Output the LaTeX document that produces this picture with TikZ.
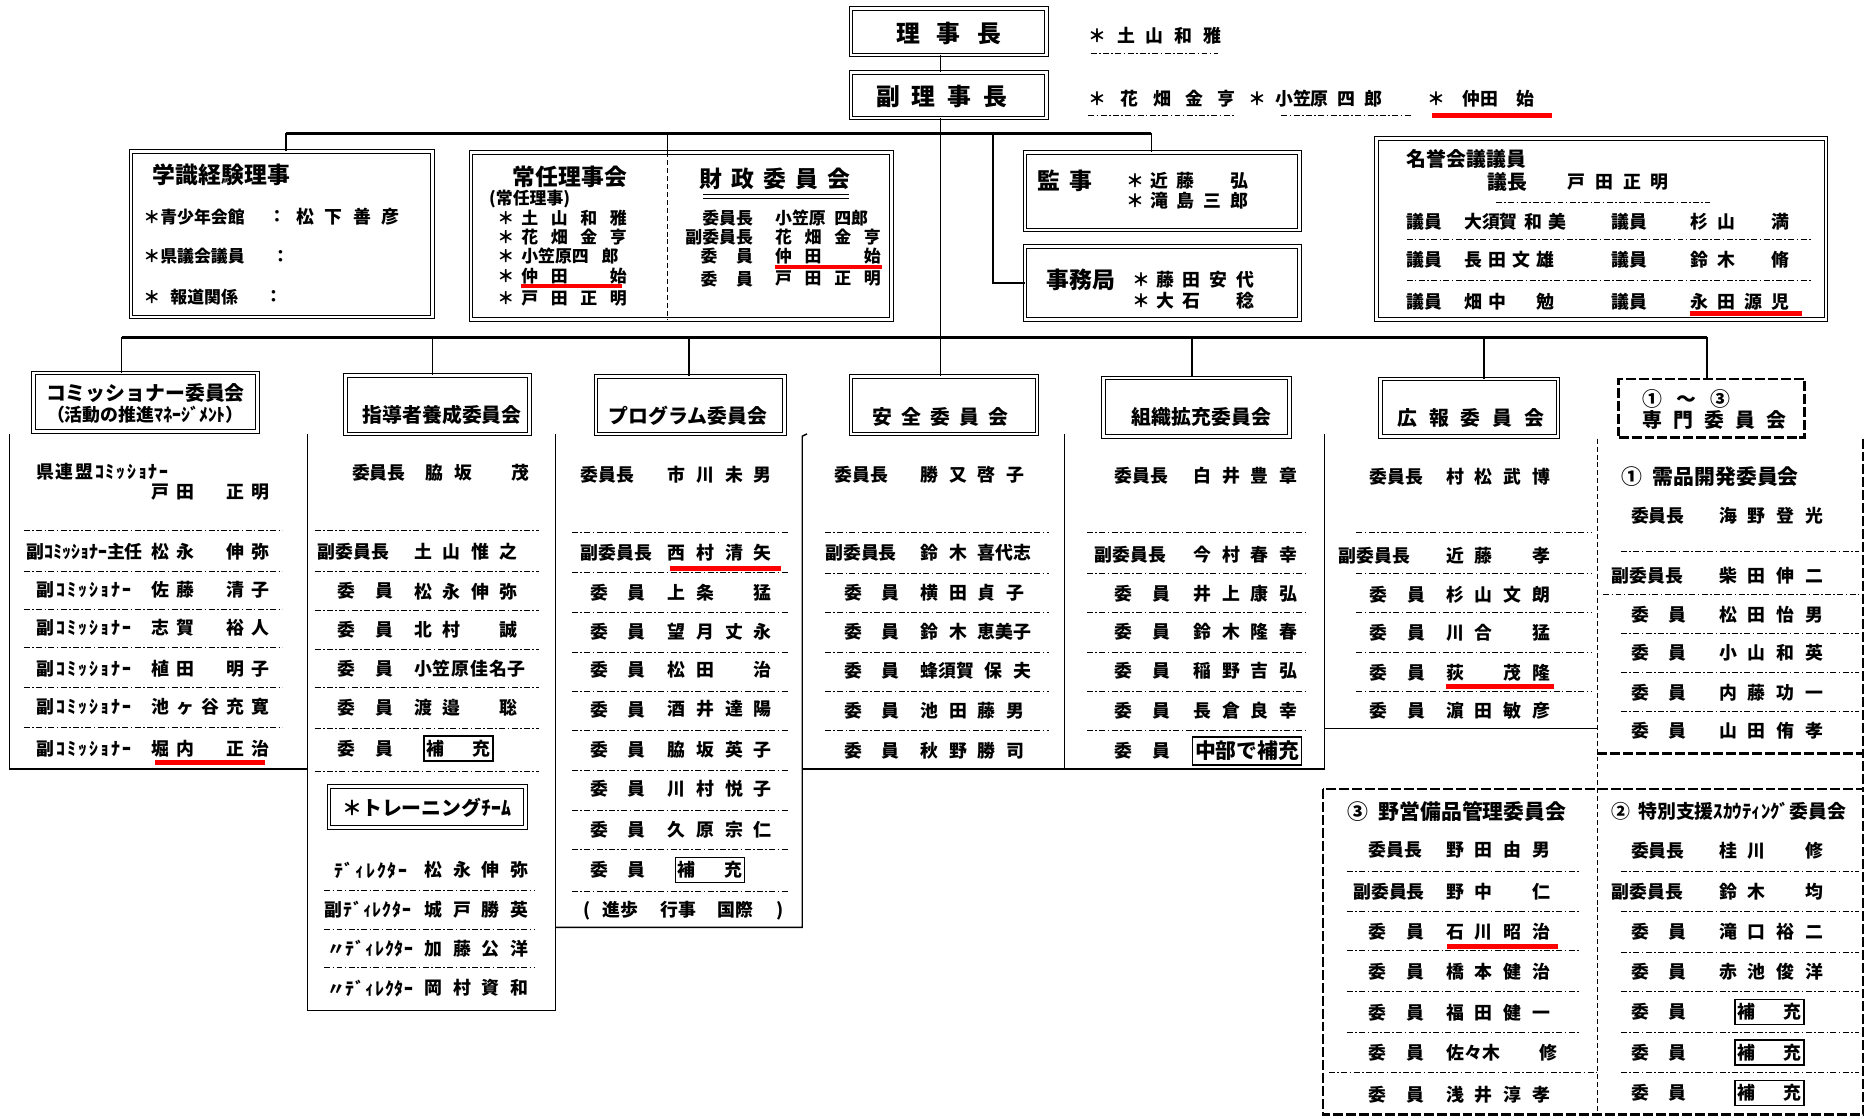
\documentclass[tikz,border=0pt]{standalone}
\usepackage{fontspec}
\setmainfont{Noto Sans CJK JP}

% 字間をあけて並べる
\newlength\lspgap
\newcommand\lspend{}
\newcommand\lsp[2][0.6em]{\setlength\lspgap{#1}\hskip-\lspgap\expandafter\lspstep#2\lspend}
\def\lspstep#1{\ifx\lspend#1\else\hskip\lspgap#1\expandafter\lspstep\fi}
\newcommand\iin{委\hspace{1.1em}員}
\newcommand\hoju{補\hspace{1.6em}充}

\tikzset{
  hbox/.style={draw, double, double distance=1.3pt, line width=0.5pt, inner sep=0pt},
  dbox/.style={draw, line width=1.3pt, dash pattern=on 5pt off 1.5pt, inner sep=0pt},
  wh/.style 2 args={minimum width=#1*0.6pt, minimum height=#2*0.6pt},
  txt/.style={anchor=west, inner sep=0pt, font=\fontsize{9}{10}\selectfont\bfseries},
  stxt/.style={anchor=west, inner sep=0pt, font=\fontsize{8.5}{9}\selectfont\bfseries},
  ttl/.style={inner sep=0pt, font=\fontsize{10}{12}\selectfont\bfseries},
  bttl/.style={inner sep=0pt, font=\fontsize{11.5}{13}\selectfont\bfseries},
  big/.style={inner sep=0pt, font=\fontsize{12}{14}\selectfont\bfseries},
  hj/.style={draw, line width=0.7pt, anchor=west, inner xsep=1.2pt, inner ysep=2pt,
    font=\fontsize{9}{10}\selectfont\bfseries},
  sep/.style={line width=0.4pt, dash pattern=on 3pt off 1.2pt on 0.8pt off 1.2pt},
  pnl/.style={line width=0.7pt},
  bus/.style={line width=1.2pt},
  hvy/.style={line width=1.3pt, dash pattern=on 5pt off 1.5pt},
  thn/.style={line width=0.5pt, dash pattern=on 2.5pt off 1.5pt},
  uline/.style={red, line width=2.4pt}
}

\begin{document}
\begin{tikzpicture}[x=0.6pt, y=-0.6pt]
  \useasboundingbox (0,0) rectangle (1568,938);

  % ====== 理事長・副理事長 ======
  \node[hbox, wh={164}{39}] (rijicho) at (796,26.5) {};
  \node[big] (rijichoT) at (796,28) {\lsp[0.7em]{理事長}};
  \node[hbox, wh={164}{38}] (fuku) at (796,80) {};
  \node[big] (fukuT) at (790,81) {\lsp[0.5em]{副理事長}};
  \coordinate (trk) at (789,0);
  \draw[pnl] (rijicho.south -| trk) -- (fuku.north -| trk);

  \node[txt] (top1) at (913,30) {\lsp{＊土山和雅}};
  \draw[sep] (915,45) -- (1022,45);
  \node[txt] (top2) at (913,83) {\lsp[0.8em]{＊花畑金亨}};
  \node[txt] (top3) at (1047,83) {\lsp[0.5em]{＊{小笠原}四郎}};
  \node[txt] (top4) at (1197,83) {＊\hspace{1em}仲田\hspace{1em}始};
  \draw[sep] (913,97) -- (1035,97) (1075,97) -- (1185,97);
  \draw[uline] (1201,97) -- (1302,97);

  % ====== 上段の枠 ======
  \node[hbox, wh={253}{139}] (gakushiki) at (236.5,196.5) {};
  \node[hbox, wh={353}{140}] (jonin) at (571.5,198) {};
  \node[hbox, wh={230}{65}] (kanji) at (975,160.5) {};
  \node[hbox, wh={230}{61}] (jimu) at (975,237.5) {};
  \node[hbox, wh={377}{152}] (meiyo) at (1343.5,192) {};

  \draw[bus] (240,112) -- (966,112);
  \draw[pnl] (240,112) -- (240,112 |- gakushiki.north);
  \draw[pnl] (560,112) -- (560,112 |- jonin.north);
  \draw[thn] (560,112 |- jonin.north) -- (560,112 |- jonin.south);
  \draw[pnl] (966,112) -- (966,112 |- kanji.north);
  \draw[pnl] (833,112) |- (jimu.west);

  % 学識経験理事
  \node[bttl, anchor=west] (gkT) at (128,147) {学識経験理事};
  \node[stxt] (gk1) at (120,182) {＊青少年会館};
  \node[stxt] (gk1c) at (225,182) {：};
  \node[txt] (gk1n) at (248,182) {\lsp{松下善彦}};
  \node[stxt] (gk2) at (120,215) {＊県議会議員};
  \node[stxt] (gk2c) at (228,215) {：};
  \node[stxt] (gk3) at (120,249) {＊\hspace{0.6em}報道関係};
  \node[stxt] (gk3c) at (222,249) {：};

  % 常任理事会
  \node[bttl, anchor=west] (jnT) at (430,148) {常任理事会};
  \node[stxt] (jnS) at (410,167) {(常任理事)};
  \foreach \y/\n [count=\i] in {183/土山和雅, 199/花畑金亨, 215/{小笠原四}郎, 232/仲田　始, 250/戸田正明}
  {
    \node[stxt] (jnA\i) at (417,\y) {＊};
    \node[stxt] (jnN\i) at (437,\y) {\lsp[0.75em]{\n}};
  }
  \draw[uline] (437,240) -- (522,240);

  % 財政委員会
  \node[bttl] (zsT) at (650,150) {\lsp[0.4em]{財政委員会}};
  \draw[line width=0.5pt] (590,163) -- (712,163) (590,166.5) -- (712,166.5);
  \node[stxt, anchor=east] (zsL1) at (632,183) {委員長};
  \node[stxt, anchor=east] (zsL2) at (632,199) {副委員長};
  \node[stxt, anchor=east] (zsL3) at (632,215) {\iin};
  \node[stxt, anchor=east] (zsL4) at (632,234) {\iin};
  \node[stxt] (zsN1) at (650,183) {\lsp[0.5em]{{小笠原}{四郎}}};
  \node[stxt] (zsN2) at (650,199) {\lsp[0.75em]{花畑金亨}};
  \node[stxt] (zsN3) at (650,215) {\lsp[0.75em]{仲田　始}};
  \node[stxt] (zsN4) at (650,234) {\lsp[0.75em]{戸田正明}};
  \draw[uline] (650,224) -- (740,224);

  % 監事・事務局
  \node[bttl, anchor=west] (kjT) at (870,152) {監\hspace{0.4em}事};
  \node[txt] (kj1) at (945,152) {＊\hspace{0.3em}\lsp[0.5em]{近藤　弘}};
  \node[txt] (kj2) at (945,168) {＊\hspace{0.3em}\lsp[0.5em]{滝島三郎}};
  \node[bttl, anchor=west] (jmT) at (878,235) {事務局};
  \node[txt] (jm1) at (950,235) {＊\hspace{0.3em}\lsp[0.5em]{藤田安代}};
  \node[txt] (jm2) at (950,252) {＊\hspace{0.3em}\lsp[0.5em]{大石　稔}};

  % 名誉会議議員
  \node[ttl, anchor=west] (myT) at (1180,133) {名誉会議議員};
  \node[ttl, anchor=west] (myL0) at (1248,153) {議長};
  \node[txt] (myN0) at (1315,153) {\lsp[0.55em]{戸田正明}};
  \draw[sep] (1255,170) -- (1435,170);
  \foreach \y/\a/\b [count=\i] in {186/{大須賀}和美/杉山　満, 218/長田文雄/鈴木　脩, 253/畑中　勉/永田源児}
  {
    \node[txt] (myLa\i) at (1180,\y) {議員};
    \node[txt] (myNa\i) at (1228,\y) {\lsp[0.35em]{\a}};
    \node[txt] (myLb\i) at (1352,\y) {議員};
    \node[txt] (myNb\i) at (1418,\y) {\lsp[0.5em]{\b}};
  }
  \draw[sep] (1180,201) -- (1520,201) (1180,235) -- (1520,235);
  \draw[uline] (1418,263) -- (1512,263);

  % ====== 委員会の見出し ======
  \node[hbox, wh={188}{49}] (comm) at (122,337.5) {};
  \node[hbox, wh={154}{49}] (shido) at (367,339.5) {};
  \node[hbox, wh={158}{48}] (prog) at (579,340) {};
  \node[hbox, wh={156}{48}] (anzen) at (792,340) {};
  \node[hbox, wh={156}{49}] (soshiki) at (1004,341.5) {};
  \node[hbox, wh={149}{48}] (koho) at (1232.5,342) {};
  \node[dbox, wh={156}{49}] (senmon) at (1436,342.5) {};

  \draw[bus] (102,283) -- (1432,283);
  \foreach \c/\x in {comm/102, shido/363, prog/578, soshiki/1000, koho/1245, senmon/1432}
    \draw[pnl] (\x,283) -- (\x,283 |- \c.north);
  \draw[pnl] (fuku.south -| trk) -- (anzen.north -| trk);

  \node[ttl] (commT1) at (122,330) {コミッショナー委員会};
  \node[txt, anchor=center] (commT2) at (122,348) {（活動の推進ﾏﾈｰｼﾞﾒﾝﾄ）};
  \node[ttl] (shidoT) at (371,348) {指導者養成委員会};
  \node[ttl] (progT) at (577,349) {プログラム委員会};
  \node[ttl] (anzenT) at (789,350) {\lsp[0.46em]{安全委員会}};
  \node[ttl] (soshikiT) at (1008,350) {組織拡充委員会};
  \node[ttl] (kohoT) at (1234,351) {\lsp[0.6em]{広報委員会}};
  \node[ttl, anchor=west] (senmonT1) at (1378,335) {①\hspace{0.7em}～\hspace{0.7em}③};
  \node[ttl, anchor=west] (senmonT2) at (1378,352) {\lsp[0.55em]{専門委員会}};

  % ====== 各委員会の枠線 ======
  \draw[pnl] (8,364) -- (8,645) -- (258,645);
  \draw[pnl] (258,364) -- (258,848) -- (466,848) -- (466,364);
  \draw[pnl] (466,778) -- (673,778) -- (673,366) -- (677,364);
  \draw[pnl] (673,645) -- (893,645) -- (893,364);
  \draw[pnl] (893,645) -- (1111,645) -- (1111,364);
  \draw[pnl] (1111,611) -- (1340,611);
  \draw[thn] (1340,368) -- (1340,935);
  \draw[hvy] (1563,368) -- (1563,662);
  \draw[hvy] (1340,632) -- (1563,632);
  \draw[hvy] (1110,662) rectangle (1563,935);

  % ====== コミッショナー委員会 ======
  \node[txt] (cmL0) at (30,396) {\lsp[0.1em]{県連盟ｺﾐｯｼｮﾅｰ}};
  \node[txt] (cmN0) at (127,413) {\lsp[0.4em]{戸田　正明}};
  \node[txt] (cmL1) at (22,463) {副ｺﾐｯｼｮﾅｰ主任};
  \node[txt] (cmN1) at (127,463) {\lsp[0.4em]{松永　伸弥}};
  \foreach \y/\n [count=\i from 2] in {495/佐藤　清子, 527/志賀　裕人, 561/植田　明子, 593/池ヶ谷充寛, 628/堀内　正治}
  {
    \node[txt] (cmL\i) at (30,\y) {\lsp[0.12em]{副ｺﾐｯｼｮﾅｰ}};
    \node[txt] (cmN\i) at (127,\y) {\lsp[0.4em]{\n}};
  }
  \foreach \y in {445,479,511,543,577,610} \draw[sep] (20,\y) -- (237,\y);
  \draw[uline] (130,640) -- (222,640);

  % ====== 指導者養成委員会 ======
  \node[txt] (sdL1) at (295,397) {委員長};
  \node[txt] (sdN1) at (357,397) {\lsp{脇坂　茂}};
  \node[txt] (sdL2) at (266,463) {副委員長};
  \node[txt] (sdN2) at (347,463) {\lsp{土山惟之}};
  \foreach \y/\g/\n [count=\i from 3] in {496/0.6em/松永伸弥, 528/0.6em/北村　誠, 561/0.05em/小笠原佳名子, 594/0.6em/渡邉　聡}
  {
    \node[txt] (sdL\i) at (283,\y) {\iin};
    \node[txt] (sdN\i) at (347,\y) {\lsp[\g]{\n}};
  }
  \node[txt] (sdL7) at (283,628) {\iin};
  \node[hj] (sdN7) at (355,628) {\hoju};
  \foreach \y in {445,479,512,545,577,611,647} \draw[sep] (264,\y) -- (452,\y);

  \node[hbox, wh={165}{34}] (train) at (358.5,677) {};
  \node[ttl] (trainT) at (358,678) {＊トレーニングﾁｰﾑ};
  \node[txt] (trL1) at (280,730) {\lsp[0.1em]{ﾃﾞｨﾚｸﾀｰ}};
  \node[txt] (trL2) at (272,763) {\lsp[0.05em]{副ﾃﾞｨﾚｸﾀｰ}};
  \node[txt] (trL3) at (274,796) {\lsp[0.05em]{〃ﾃﾞｨﾚｸﾀｰ}};
  \node[txt] (trL4) at (274,829) {\lsp[0.05em]{〃ﾃﾞｨﾚｸﾀｰ}};
  \foreach \y/\n [count=\i] in {730/松永伸弥, 763/城戸勝英, 796/加藤公洋, 829/岡村資和}
    \node[txt] (trN\i) at (356,\y) {\lsp{\n}};
  \foreach \y in {747,780,812} \draw[sep] (272,\y) -- (448,\y);

  % ====== プログラム委員会 ======
  \node[txt] (pgL1) at (487,398) {委員長};
  \node[txt] (pgN1) at (560,398) {\lsp{市川未男}};
  \node[txt] (pgL2) at (487,464) {副委員長};
  \node[txt] (pgN2) at (560,464) {\lsp{西村清矢}};
  \foreach \y/\n [count=\i from 3] in {497/上条　猛, 530/望月丈永, 562/松田　治, 595/酒井達陽, 629/脇坂英子, 662/川村悦子, 696/久原宗仁}
  {
    \node[txt] (pgL\i) at (495,\y) {\iin};
    \node[txt] (pgN\i) at (560,\y) {\lsp{\n}};
  }
  \node[txt] (pgL10) at (495,730) {\iin};
  \node[hj] (pgN10) at (566,730) {\hoju};
  \node[txt] (pgX) at (489,764) {(\hspace{0.7em}進歩\hspace{1.2em}行事\hspace{1.2em}国際\hspace{1.3em})};
  \foreach \y in {447,480,514,547,580,613,646,680,713,748} \draw[sep] (480,\y) -- (662,\y);
  \draw[uline] (562,477) -- (655,477);

  % ====== 安全委員会 ======
  \node[txt] (azL1) at (700,398) {委員長};
  \node[txt] (azN1) at (772,398) {\lsp{勝又啓子}};
  \node[txt] (azL2) at (692,464) {副委員長};
  \node[txt] (azN2) at (772,464) {\lsp{鈴木{喜代志}}};
  \foreach \y/\n [count=\i from 3] in {497/横田貞子, 530/鈴木{恵美子}, 563/{蜂須賀}保夫, 596/池田藤男, 630/秋野勝司}
  {
    \node[txt] (azL\i) at (708,\y) {\iin};
    \node[txt] (azN\i) at (772,\y) {\lsp{\n}};
  }
  \foreach \y in {447,481,514,547,580,613} \draw[sep] (692,\y) -- (880,\y);

  % ====== 組織拡充委員会 ======
  \node[txt] (skL1) at (935,399) {委員長};
  \node[txt] (skN1) at (1001,399) {\lsp{白井豊章}};
  \node[txt] (skL2) at (918,465) {副委員長};
  \node[txt] (skN2) at (1001,465) {\lsp{今村春幸}};
  \foreach \y/\n [count=\i from 3] in {498/井上康弘, 530/鈴木隆春, 563/稲野吉弘, 596/長倉良幸}
  {
    \node[txt] (skL\i) at (935,\y) {\iin};
    \node[txt] (skN\i) at (1001,\y) {\lsp{\n}};
  }
  \node[txt] (skL7) at (935,630) {\iin};
  \node[hj, font=\fontsize{10.5}{12}\selectfont\bfseries] (skN7) at (1000,630) {中部で補充};
  \foreach \y in {447,481,514,547,580,613} \draw[sep] (912,\y) -- (1097,\y);

  % ====== 広報委員会 ======
  \node[txt] (khL1) at (1149,400) {委員長};
  \node[txt] (khN1) at (1213,400) {\lsp{村松武博}};
  \node[txt] (khL2) at (1123,466) {副委員長};
  \node[txt] (khN2) at (1213,466) {\lsp{近藤　孝}};
  \foreach \y/\n [count=\i from 3] in {499/杉山文朗, 531/川合　猛, 564/荻　茂隆, 596/濵田敏彦}
  {
    \node[txt] (khL\i) at (1149,\y) {\iin};
    \node[txt] (khN\i) at (1213,\y) {\lsp{\n}};
  }
  \foreach \y in {447,481,514,547,580} \draw[sep] (1138,\y) -- (1335,\y);
  \draw[uline] (1213,576) -- (1304,576);

  % ====== ① 需品開発委員会 ======
  \node[ttl, anchor=west, font=\fontsize{10.5}{12}\selectfont\bfseries] (s1T) at (1360,400) {①\hspace{0.5em}需品開発委員会};
  \node[txt] (s1L1) at (1368,433) {委員長};
  \node[txt] (s1N1) at (1442,433) {\lsp{海野登光}};
  \node[txt] (s1L2) at (1352,483) {副委員長};
  \node[txt] (s1N2) at (1442,483) {\lsp{柴田伸二}};
  \foreach \y/\n [count=\i from 3] in {516/松田怡男, 548/小山和英, 581/内藤功一, 613/山田侑孝}
  {
    \node[txt] (s1L\i) at (1368,\y) {\iin};
    \node[txt] (s1N\i) at (1442,\y) {\lsp{\n}};
  }
  \draw[sep] (1360,463) -- (1560,463) (1345,499) -- (1560,499);
  \foreach \y in {531,564,597} \draw[sep] (1360,\y) -- (1560,\y);

  % ====== ③ 野営備品管理委員会 ======
  \node[ttl, anchor=west, font=\fontsize{10.5}{12}\selectfont\bfseries] (s3T) at (1130,681) {③\hspace{0.5em}野営備品管理委員会};
  \node[txt] (s3L1) at (1148,713) {委員長};
  \node[txt] (s3N1) at (1213,713) {\lsp{野田由男}};
  \node[txt] (s3L2) at (1135,748) {副委員長};
  \node[txt] (s3N2) at (1213,748) {\lsp{野中　仁}};
  \foreach \y/\n [count=\i from 3] in {782/石川昭治, 815/橋本健治, 850/福田健一, 883/{佐々木}　修, 918/浅井淳孝}
  {
    \node[txt] (s3L\i) at (1148,\y) {\iin};
    \node[txt] (s3N\i) at (1213,\y) {\lsp{\n}};
  }
  \foreach \y in {731,765,797,832,866} \draw[sep] (1130,\y) -- (1325,\y);
  \draw[sep] (1115,900) -- (1340,900);
  \draw[uline] (1214,794) -- (1307,794);

  % ====== ② 特別支援スカウティング委員会 ======
  \node[ttl, anchor=west, font=\fontsize{9.5}{11}\selectfont\bfseries] (s2T) at (1352,681) {②\hspace{0.4em}特別支援ｽｶｳﾃｨﾝｸﾞ委員会};
  \node[txt] (s2L1) at (1368,714) {委員長};
  \node[txt] (s2N1) at (1442,714) {\lsp{桂川　修}};
  \node[txt] (s2L2) at (1352,748) {副委員長};
  \node[txt] (s2N2) at (1442,748) {\lsp{鈴木　均}};
  \foreach \y/\n [count=\i from 3] in {782/滝口裕二, 815/赤池俊洋}
  {
    \node[txt] (s2L\i) at (1368,\y) {\iin};
    \node[txt] (s2N\i) at (1442,\y) {\lsp{\n}};
  }
  \foreach \y [count=\i from 5] in {849,883,917}
  {
    \node[txt] (s2L\i) at (1368,\y) {\iin};
    \node[hj] (s2N\i) at (1455,\y) {\hoju};
  }
  \foreach \y in {731,765,799,832,866,900} \draw[sep] (1360,\y) -- (1560,\y);

\end{tikzpicture}
\end{document}
